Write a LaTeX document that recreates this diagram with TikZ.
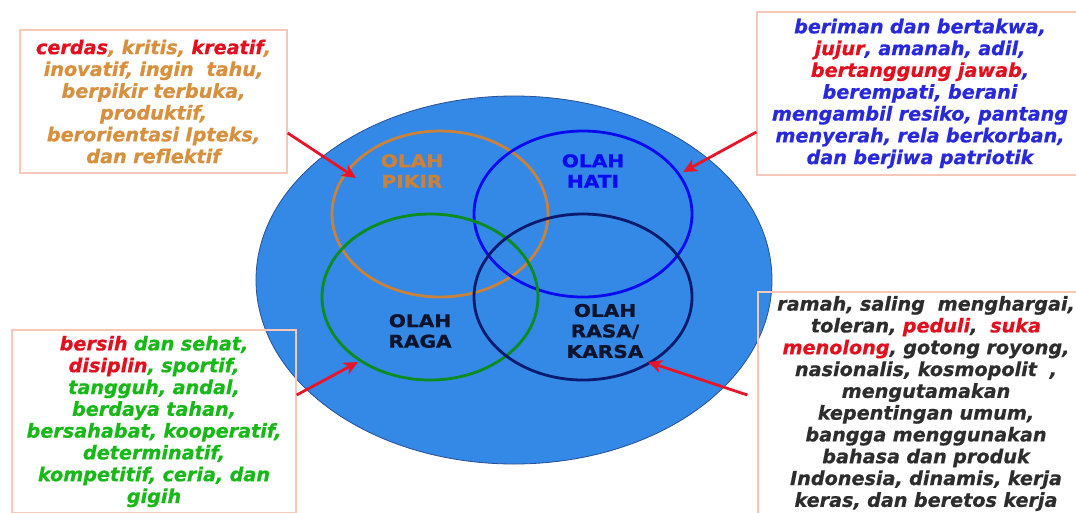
\documentclass[tikz,border=0pt]{standalone}
\usepackage{fontspec}
\newfontfamily\boxfont{DejaVu Sans}[FakeBold=0.6]
\newfontfamily\labfont{DejaVu Sans}[FakeStretch=1.15,FakeBold=1.2]
\usetikzlibrary{arrows.meta,shapes.geometric}
\definecolor{bigfill}{RGB}{52,137,230}
\definecolor{bigedge}{RGB}{40,80,150}
\definecolor{boxedge}{RGB}{245,200,185}
\definecolor{txtred}{RGB}{226,16,30}
\definecolor{txtorange}{RGB}{214,144,62}
\definecolor{txtblue}{RGB}{40,40,220}
\definecolor{txtgreen}{RGB}{24,184,24}
\definecolor{txtgray}{RGB}{45,45,45}
\definecolor{arrred}{RGB}{232,20,40}
\definecolor{pikircol}{RGB}{200,130,60}
\definecolor{haticol}{RGB}{10,10,240}
\definecolor{ragacol}{RGB}{10,140,30}
\definecolor{rasacol}{RGB}{10,26,110}
\definecolor{labdark}{RGB}{12,20,45}
\begin{document}
\begin{tikzpicture}[x=1pt,y=-1pt,
  infobox/.style={draw=boxedge, line width=1.3pt, align=center, inner sep=0pt,
    font=\boxfont\bfseries\itshape\fontsize{19.2}{21.8}\selectfont},
  venn/.style={ellipse, line width=2.8pt, inner sep=0pt},
  lab/.style={font=\labfont\bfseries\fontsize{17.5}{20.5}\selectfont, align=center},
  arr/.style={draw=arrred, line width=2.8pt, -{Stealth[length=14pt,width=13pt,inset=4pt]}}]
\useasboundingbox (0,0) rectangle (1076,512);
\fill[white] (0,0) rectangle (1076,512);
% big ellipse
\node[ellipse, fill=bigfill, draw=bigedge, line width=0.8pt, minimum width=516pt, minimum height=368pt, inner sep=0pt] (big) at (514,280) {};
% venn ellipses
\node[venn, draw=pikircol, minimum width=216pt, minimum height=166pt] (pikir) at (440,214) {};
\node[venn, draw=haticol, minimum width=218pt, minimum height=166pt] (hati) at (583,214) {};
\node[venn, draw=ragacol, minimum width=216pt, minimum height=166pt] (raga) at (430,297) {};
\node[venn, draw=rasacol, minimum width=218pt, minimum height=166pt] (rasa) at (583,297) {};
% labels
\node[lab, text=pikircol] (lpikir) at (412,171) {OLAH\\PIKIR};
\node[lab, text=haticol] (lhati) at (593,171) {OLAH\\HATI};
\node[lab, text=labdark] (lraga) at (420,331) {OLAH\\RAGA};
\node[lab, text=labdark] (lrasa) at (605,331) {OLAH\\RASA/\\KARSA};
% boxes
\node[infobox, text=txtorange, text width=267pt, minimum height=143pt] (tl) at (153.5,101.5)
 {{\color{txtred}cerdas}, kritis, {\color{txtred}kreatif},\\ inovatif, ingin~ tahu,\\ berpikir terbuka,\\ produktif,\\ berorientasi Ipteks,\\ dan reflektif};
\node[infobox, text=txtblue, text width=326pt, minimum height=163pt] (tr) at (920,93.5)
 {beriman dan bertakwa,\\ {\color{txtred}jujur}, amanah, adil,\\ {\color{txtred}bertanggung jawab},\\ berempati, berani\\ mengambil resiko, pantang\\ menyerah, rela berkorban,\\ dan berjiwa patriotik};
\node[infobox, text=txtgreen, text width=284pt, minimum height=183pt] (bl) at (154,421.5)
 {{\color{txtred}bersih} dan sehat,\\ {\color{txtred}disiplin}, sportif,\\ tangguh, andal,\\ berdaya tahan,\\ bersahabat, kooperatif,\\ determinatif,\\ kompetitif, ceria, dan\\ gigih};
\node[infobox, text=txtgray, text width=336pt, minimum height=223pt] (br) at (926,403.5)
 {ramah, saling~ menghargai,\\ toleran, {\color{txtred}peduli},~ {\color{txtred}suka}\\ {\color{txtred}menolong}, gotong royong,\\ nasionalis, kosmopolit~ ,\\ mengutamakan\\ kepentingan umum,\\ bangga menggunakan\\ bahasa dan produk\\ Indonesia, dinamis, kerja\\ keras, dan beretos kerja};
% arrow targets
\coordinate (tpikir) at (356,178);
\coordinate (thati) at (683,172);
\coordinate (traga) at (358,362);
\coordinate (trasa) at (648,362);
% arrows
\draw[arr] ([yshift=-31.5pt]tl.east) -- (tpikir);
\draw[arr] ([yshift=-38.5pt]tr.west) -- (thati);
\draw[arr] ([yshift=26.5pt]bl.east) -- (traga);
\draw[arr] ([xshift=-10pt,yshift=8.5pt]br.west) -- (trasa);
\end{tikzpicture}
\end{document}
